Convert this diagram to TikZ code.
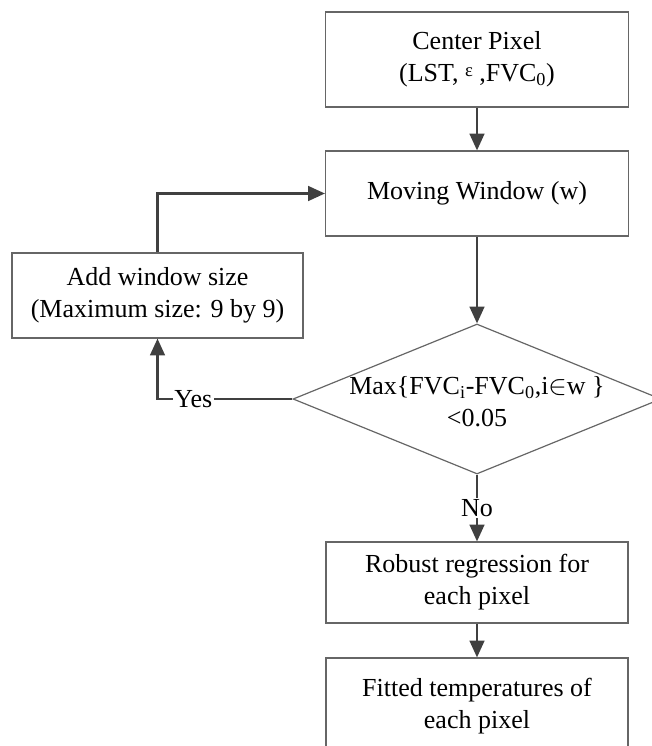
\documentclass[tikz,border=0pt]{standalone}
\usepackage{fontspec}
\setmainfont{Liberation Serif}
\usetikzlibrary{shapes.geometric,arrows.meta}
\definecolor{linec}{HTML}{404040}
\definecolor{boxc}{HTML}{666666}
\begin{document}
\begin{tikzpicture}[x=0.75pt,y=-0.75pt,
  box/.style={draw=boxc,line width=0.9pt,fill=white,align=center,inner sep=0pt,
    font=\fontsize{19.5}{24}\selectfont},
  arr/.style={draw=linec,line width=1.6pt,-{Triangle[length=12.5pt,width=11pt]}},
  lbl/.style={fill=white,inner sep=1pt,font=\fontsize{19.5}{24}\selectfont}]
\useasboundingbox (0,0) rectangle (652,746);
\clip (0,0) rectangle (652,746);
\node[box,minimum width=227.25pt,minimum height=71.25pt] (top) at (477,59.5)
  {Center Pixel\\(LST, \raisebox{4pt}{\fontsize{14}{14}\selectfont ε} ,FVC\textsubscript{0})};
\node[box,minimum width=227.25pt,minimum height=63.75pt] (mov) at (477,193.5)
  {Moving Window (w)};
\node[draw=boxc,line width=0.9pt,diamond,minimum width=276pt,minimum height=112.5pt,inner sep=0pt] (d) at (477,399) {};
\node[align=center,font=\fontsize{19.5}{24}\selectfont] (dt) at (477,402)
  {Max\{FVC\textsubscript{i}-FVC\textsubscript{0},i$\in$w \}\\<0.05};
\node[box,minimum width=218.25pt,minimum height=63.75pt] (add) at (157.5,295.5)
  {Add window size\\(Maximum size: 9 by 9)};
\node[box,minimum width=226.5pt,minimum height=60.75pt] (rob) at (477,582.5)
  {Robust regression for\\each pixel};
\node[box,minimum width=226.5pt,minimum height=72.75pt] (fit) at (477,706.5)
  {Fitted temperatures of\\each pixel};
\draw[arr] (top.south) -- (mov.north);
\draw[arr] (mov.south) -- (d.north);
\draw[arr] (d.west) -- node[lbl,pos=0.735]{Yes} (add.south |- d.west) -- (add.south);
\draw[arr] (add.north) |- (mov.west);
\draw[arr] (d.south) -- node[lbl]{No} (rob.north);
\draw[arr] (rob.south) -- (fit.north);
\end{tikzpicture}
\end{document}
